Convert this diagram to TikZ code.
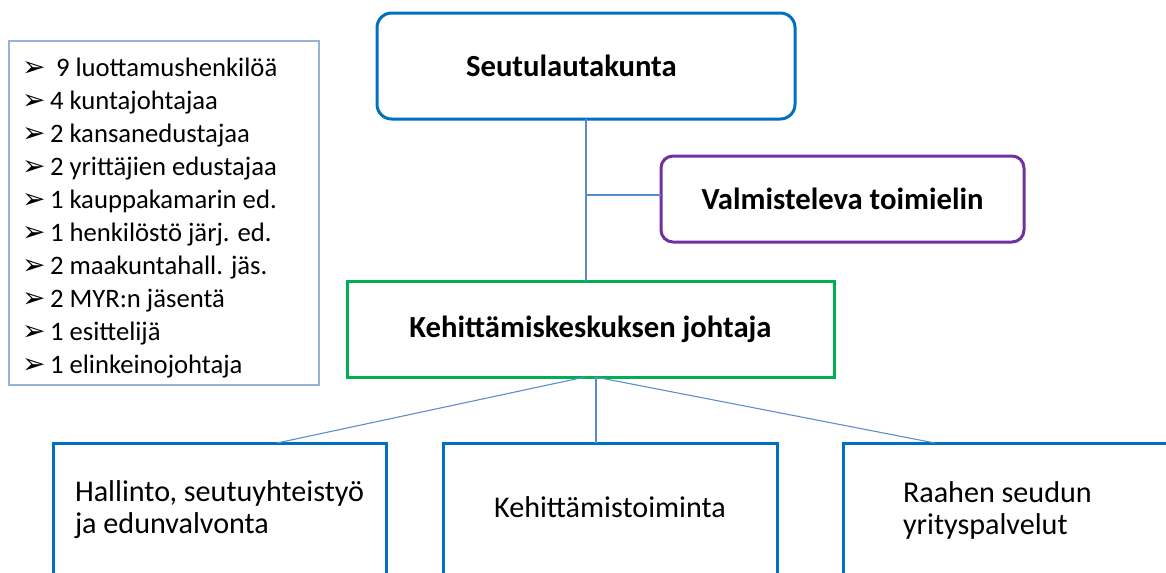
\documentclass[tikz,border=0pt]{standalone}
\usepackage{fontspec}
\setmainfont{Carlito}
\newfontfamily\dingfont{DejaVu Sans}
\usetikzlibrary{calc}
\definecolor{boxblue}{HTML}{0070C0}
\definecolor{boxgreen}{HTML}{00B050}
\definecolor{boxpurple}{HTML}{7030A0}
\definecolor{linkblue}{HTML}{5B8BCB}
\definecolor{listblue}{HTML}{95B3D7}
\newcommand{\itemarrow}{\makebox[21pt][l]{\raisebox{0pt}{\dingfont\fontsize{21pt}{21pt}\selectfont ➢}}}
\begin{document}
\begin{tikzpicture}[x=0.75pt,y=-0.75pt,
  every node/.style={inner sep=0pt,outer sep=0pt},
  headbox/.style={draw=#1,line width=2.25pt,font=\fontsize{23pt}{26pt}\selectfont\bfseries,align=center},
  unitbox/.style={draw=boxblue,line width=2.25pt,anchor=north west,minimum height=150pt},
  unittext/.style={font=\fontsize{22.6pt}{24pt}\selectfont,align=left},
  link/.style={draw=linkblue,line width=0.8pt}]
\useasboundingbox (0,0) rectangle (1166,572);
\begin{scope}
\clip (0,0) rectangle (1166,572);

% membership list
\node[draw=listblue,line width=1pt,minimum width=232.5pt,minimum height=258pt] (listbox) at (164,213) {};
\node[anchor=west,align=left,font=\fontsize{20pt}{24.75pt}\selectfont] (members) at (22,218) {%
\itemarrow\ 9 luottamushenkilöä\\
\itemarrow 4 kuntajohtajaa\\
\itemarrow 2 kansanedustajaa\\
\itemarrow 2 yrittäjien edustajaa\\
\itemarrow 1 kauppakamarin ed.\\
\itemarrow 1 henkilöstö järj. ed.\\
\itemarrow 2 maakuntahall. jäs.\\
\itemarrow 2 MYR:n jäsentä\\
\itemarrow 1 esittelijä\\
\itemarrow 1 elinkeinojohtaja};

% governing bodies
\node[headbox=boxblue,rounded corners=11pt,minimum width=313.5pt,minimum height=79.5pt] (sl) at (586,66) {Seutulautakunta\hspace{22pt}};
\node[headbox=boxpurple,rounded corners=9pt,minimum width=272.25pt,minimum height=64.5pt] (vt) at (842.5,199) {Valmisteleva toimielin};
\node[headbox=boxgreen,minimum width=365.25pt,minimum height=72pt] (kj) at (590.5,329) {Kehittämiskeskuksen johtaja};

% units
\node[unitbox,minimum width=249.75pt] (b1) at (53,443) {};
\node[unitbox,minimum width=250.5pt] (b2) at (443,443) {};
\node[unitbox,minimum width=255pt] (b3) at (843,443) {};
\node[unittext,anchor=west] (t1) at (75,510) {Hallinto, seutuyhteistyö\\ja edunvalvonta};
\node[unittext] (t2) at (610,507) {Kehittämistoiminta};
\node[unittext,anchor=west] (t3) at (903,510) {Raahen seudun\\yrityspalvelut};

% connectors
\draw[link] (sl.south) -- (sl.south |- kj.north);
\draw[link] ($(sl.south)+(0,76)$) -- (vt.west |- 0,195) ;
\draw[link] ($(kj.south)+(-5.5,0)$) -- ($(b1.north west)+(224,0)$);
\draw[link] ($(kj.south)+(5.5,0)$) -- ($(kj.south)+(5.5,66)$);
\draw[link] ($(kj.south)+(5,0)$) -- ($(b3.north west)+(92,0)$);
\end{scope}
\end{tikzpicture}
\end{document}
